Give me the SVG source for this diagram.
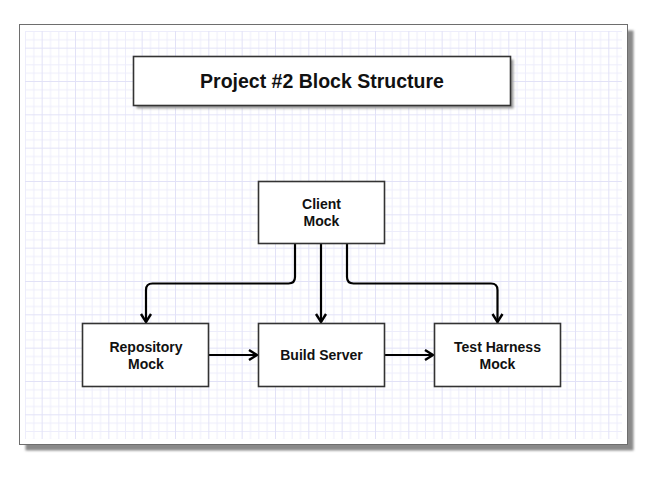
<svg xmlns="http://www.w3.org/2000/svg" width="665" height="477" viewBox="0 0 665 477">
<style>
.box{fill:#fff;stroke:#333;stroke-width:1.6}
.lbl{font-family:"Liberation Sans",Arial,sans-serif;font-weight:bold;font-size:14px;fill:#111;text-anchor:middle}
.title{font-family:"Liberation Sans",Arial,sans-serif;font-weight:bold;font-size:19.5px;fill:#111;text-anchor:middle}
.conn{fill:none;stroke:#000;stroke-width:2.2;stroke-linejoin:round}
</style>
<defs>
<filter id="blur" x="-5%" y="-5%" width="110%" height="110%"><feGaussianBlur stdDeviation="1.2"/></filter>
<pattern id="grid" patternUnits="userSpaceOnUse" x="25" y="31" width="33.333" height="33.333">
<path d="M0,0.5H33.333M0,8.833H33.333M0,25.5H33.333M0.5,0V33.333M8.833,0V33.333M25.5,0V33.333" stroke="#ededfb" stroke-width="1" fill="none"/>
<path d="M0,17.167H33.333M17.167,0V33.333" stroke="#e2e2f7" stroke-width="1" fill="none"/>
</pattern>
<marker id="arr" viewBox="-12 -7 14 14" refX="0" refY="0" markerWidth="14" markerHeight="14" markerUnits="userSpaceOnUse" orient="auto">
<path d="M-8.5,-5 L-0.5,0 L-8.5,5" fill="none" stroke="#000" stroke-width="2.4" stroke-linejoin="miter"/>
</marker>
</defs>
<rect width="665" height="477" fill="#fff"/>
<g id="frame">
<rect x="25.5" y="30.5" width="608" height="420" fill="#8a8a8a" filter="url(#blur)"/>
<rect x="19.5" y="24.5" width="608" height="420" fill="#fff" stroke="#6e6e6e" stroke-width="1"/>
<rect x="25" y="31" width="597" height="408" fill="url(#grid)"/>
</g>
<g id="title">
<rect x="136.5" y="59.5" width="377" height="49" fill="#999" filter="url(#blur)"/>
<rect x="133.5" y="56.5" width="377" height="49" class="box"/>
<text x="322" y="87.5" class="title">Project #2 Block Structure</text>
</g>
<g id="connectors">
<path class="conn" marker-end="url(#arr)" d="M295,243.5 V277 Q295,283.5 288.5,283.5 H152.5 Q146,283.5 146,290 V322.5"/>
<path class="conn" marker-end="url(#arr)" d="M321,243.5 V322.5"/>
<path class="conn" marker-end="url(#arr)" d="M347,243.5 V277 Q347,283.5 353.5,283.5 H491 Q497.5,283.5 497.5,290 V322.5"/>
<path class="conn" marker-end="url(#arr)" d="M208.5,355 H257.5"/>
<path class="conn" marker-end="url(#arr)" d="M384.5,355 H433.5"/>
</g>
<g id="client">
<rect x="258.5" y="181.5" width="126" height="62" class="box"/>
<text x="321.5" y="209.3" class="lbl">Client</text>
<text x="321.5" y="226" class="lbl">Mock</text>
</g>
<g id="repository">
<rect x="82.5" y="323.5" width="126" height="63" class="box"/>
<text x="146" y="352" class="lbl">Repository</text>
<text x="146" y="368.5" class="lbl">Mock</text>
</g>
<g id="build">
<rect x="258.5" y="323.5" width="126" height="63" class="box"/>
<text x="321.5" y="360" class="lbl">Build Server</text>
</g>
<g id="harness">
<rect x="434.5" y="323.5" width="126" height="63" class="box"/>
<text x="497.5" y="352" class="lbl">Test Harness</text>
<text x="497.5" y="368.5" class="lbl">Mock</text>
</g>
</svg>
